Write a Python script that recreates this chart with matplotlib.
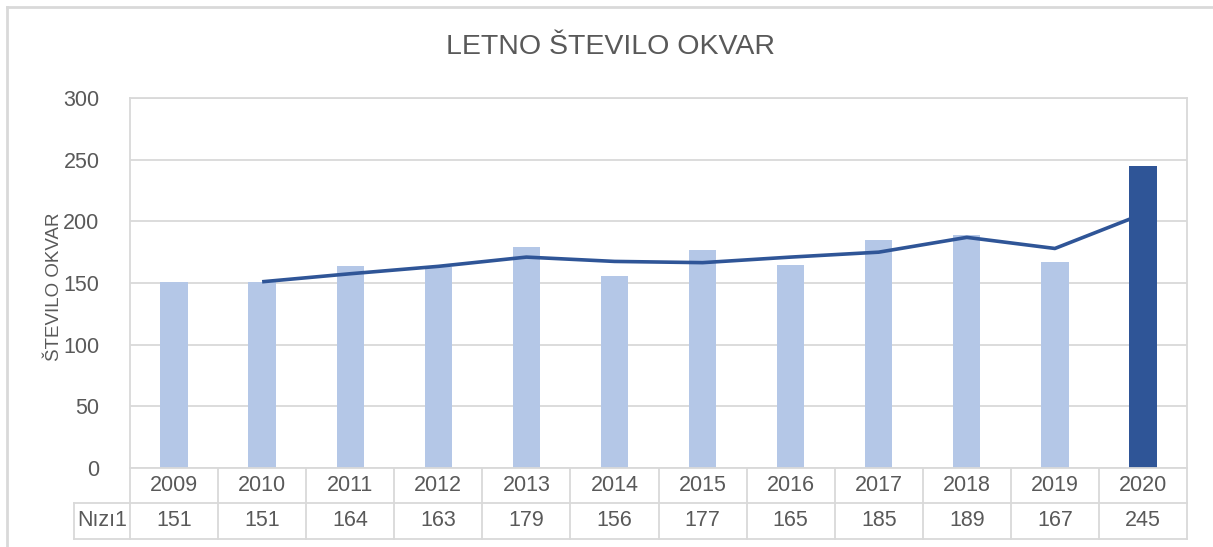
import matplotlib.pyplot as plt
from matplotlib import transforms
from matplotlib.lines import Line2D

years = ['2009', '2010', '2011', '2012', '2013', '2014', '2015', '2016', '2017', '2018', '2019', '2020']
okvare = [151, 151, 164, 163, 179, 156, 177, 165, 185, 189, 167, 245]
# trend line (starts at 2010)
trend_years = years[1:]
trend = [151, 157.5, 163.5, 171, 167.5, 166.5, 171, 175, 187, 178, 206]
series_name = 'Nızı1'

W, H = 1213, 547
plt.rcParams['font.family'] = ['Liberation Sans', 'DejaVu Sans']
txt = '#595959'
grid = '#D9D9D9'
fs = 15.5

fig = plt.figure(figsize=(W / 100, H / 100), dpi=100)
L, R, T, B = 130, 1187, 98, 468
ax = fig.add_axes([L / W, 1 - B / H, (R - L) / W, (B - T) / H])

x = list(range(len(years)))
colors = ['#B4C7E7'] * (len(years) - 1) + ['#2F5597']
ax.bar(x, okvare, width=0.31, color=colors, zorder=2)
ax.plot(x[1:], trend, color='#2F5597', lw=2.6, zorder=3, solid_capstyle='butt')

ax.set_xlim(-0.5, len(years) - 0.5)
ax.set_ylim(0, 300)
ax.set_yticks(range(0, 301, 50))
ax.yaxis.grid(True, color=grid, lw=1.3, zorder=0)
ax.set_xticks([])
ax.tick_params(axis='y', length=0, pad=22, labelsize=fs, labelcolor=txt)
for s in ax.spines.values():
    s.set_color(grid)
    s.set_linewidth(1.3)

ax.set_ylabel('ŠTEVILO OKVAR', fontsize=13.5, color=txt)
ax.yaxis.set_label_coords((63 - L) / (R - L), 0.49)
fig.text(611 / W, 1 - 47 / H, 'LETNO ŠTEVILO OKVAR', ha='center', va='center',
         fontsize=20.5, color=txt)

# data table under the axis
tr = transforms.blended_transform_factory(ax.transData, fig.transFigure)
fy = lambda py: 1 - py / H
y0, y1, y2 = 468, 503, 539
for i in range(len(years) + 1):
    fig.add_artist(Line2D([i - 0.5, i - 0.5], [fy(y0), fy(y2)], transform=tr,
                          color=grid, lw=1.3))
for yy in (y1, y2):
    fig.add_artist(Line2D([74 / W, R / W], [fy(yy), fy(yy)], transform=fig.transFigure,
                          color=grid, lw=1.3))
fig.add_artist(Line2D([74 / W, 74 / W], [fy(y1), fy(y2)], transform=fig.transFigure,
                      color=grid, lw=1.3))
for i, (yr, v) in enumerate(zip(years, okvare)):
    fig.text(i, fy((y0 + y1) / 2), yr, transform=tr, ha='center', va='center',
             fontsize=fs, color=txt)
    fig.text(i, fy((y1 + y2) / 2), str(v), transform=tr, ha='center', va='center',
             fontsize=fs, color=txt)
fig.text(102 / W, fy((y1 + y2) / 2), series_name, ha='center', va='center',
         fontsize=fs, color=txt)

# outer chart border
fig.add_artist(Line2D([7 / W, 1], [fy(7), fy(7)], transform=fig.transFigure, color=grid, lw=2))
fig.add_artist(Line2D([7 / W, 7 / W], [fy(7), 0], transform=fig.transFigure, color=grid, lw=2))

fig.savefig('out.png', dpi=100)
